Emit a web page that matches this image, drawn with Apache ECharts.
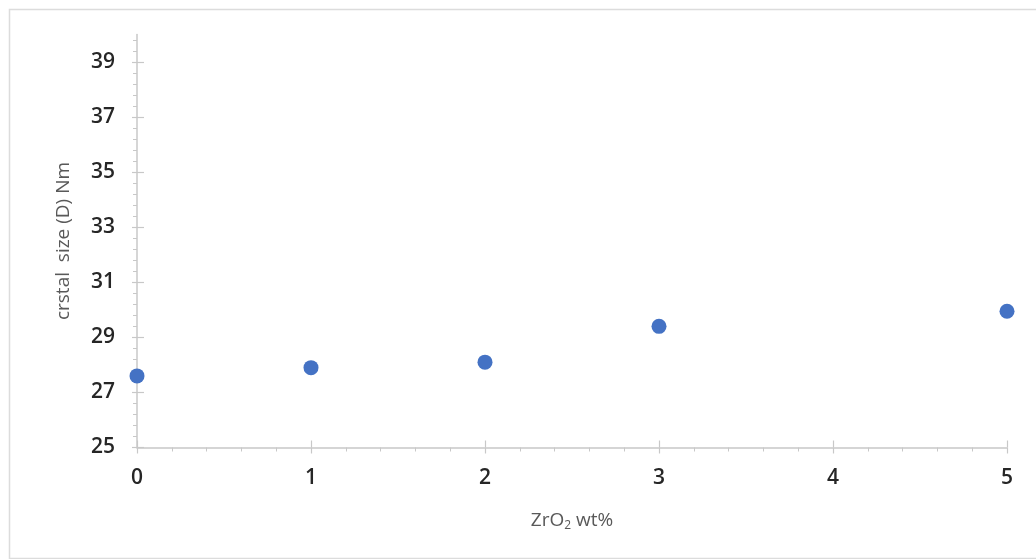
<!DOCTYPE html>
<html>
<head>
    <meta charset="utf-8">
    <title>crystal size</title>
    <script src="https://cdn.jsdelivr.net/npm/echarts@6/dist/echarts.min.js"></script>
    <style>
        html, body { margin: 0; padding: 0; background: #fff; }
        #main { width: 1036px; height: 559px; }
    </style>
</head>
<body>
    <div id="main"></div>
    <script type="text/javascript">
    // data
    var zro2 = [0, 1, 2, 3, 5];
    var crystalSize = [27.6, 27.9, 28.1, 29.4, 29.95];
    var yTicks = [25, 27, 29, 31, 33, 35, 37, 39];
    var xTicks = [0, 1, 2, 3, 4, 5];

    var points = zro2.map(function (x, i) { return [x, crystalSize[i]]; });

    var lineColor = '#c8c8c8';
    var labelStyle = { fontFamily: 'Open Sans', fontSize: 21, fontWeight: 600, color: '#262626' };

    var myChart = echarts.init(document.getElementById('main'));

    var option = {
        backgroundColor: '#fff',
        animation: false,
        graphic: [{
            type: 'rect',
            left: 7, top: 7,
            shape: { width: 1040, height: 549 },
            style: { fill: 'none', stroke: '#dcdcdc', lineWidth: 1.5 },
            silent: true
        }],
        grid: { left: 137, right: 29, top: 34.5, bottom: 111.5 },
        xAxis: [
            {
                type: 'value', position: 'bottom',
                min: 0, max: 5, interval: 1,
                name: 'ZrO{sub|2} wt%',
                nameLocation: 'middle',
                nameGap: 62,
                nameTextStyle: {
                    fontFamily: 'Open Sans', fontSize: 19, color: '#595959',
                    rich: { sub: { fontFamily: 'Open Sans', fontSize: 12, color: '#595959', padding: [10, 0, 0, 0] } }
                },
                axisLine: { show: true, onZero: false, lineStyle: { color: lineColor, width: 1.5 } },
                axisTick: { show: true, length: 6, customValues: xTicks, lineStyle: { color: lineColor, width: 1.2 } },
                minorTick: { show: true, splitNumber: 5, length: 4, lineStyle: { color: lineColor, width: 1 } },
                axisLabel: Object.assign({ margin: 20, customValues: xTicks }, labelStyle),
                splitLine: { show: false }
            },
            {
                type: 'value', position: 'bottom',
                min: 0, max: 5, interval: 1,
                axisLine: { show: false },
                axisTick: { show: true, inside: true, length: 7, customValues: xTicks, lineStyle: { color: lineColor, width: 1.2 } },
                axisLabel: { show: false },
                splitLine: { show: false }
            }
        ],
        yAxis: [
            {
                type: 'value', position: 'left',
                min: 25, max: 40, interval: 2,
                name: 'crstal  size (D) Nm',
                nameLocation: 'middle',
                nameGap: 64,
                nameTextStyle: { fontFamily: 'Open Sans', fontSize: 19, color: '#595959' },
                axisLine: { show: true, onZero: false, lineStyle: { color: lineColor, width: 1.5 } },
                axisTick: { show: true, length: 5, customValues: yTicks, lineStyle: { color: lineColor, width: 1.2 } },
                minorTick: { show: true, splitNumber: 5, length: 4, lineStyle: { color: lineColor, width: 1 } },
                axisLabel: Object.assign({ margin: 22, customValues: yTicks }, labelStyle),
                splitLine: { show: false }
            },
            {
                type: 'value', position: 'left',
                min: 25, max: 40, interval: 2,
                axisLine: { show: false },
                axisTick: { show: true, inside: true, length: 7, customValues: yTicks, lineStyle: { color: lineColor, width: 1.2 } },
                axisLabel: { show: false },
                splitLine: { show: false }
            }
        ],
        series: [{
            type: 'scatter',
            xAxisIndex: 0,
            yAxisIndex: 0,
            symbolSize: 15,
            itemStyle: { color: '#4472C4', opacity: 1 },
            data: points
        }]
    };

    myChart.setOption(option);
    </script>
</body>
</html>
